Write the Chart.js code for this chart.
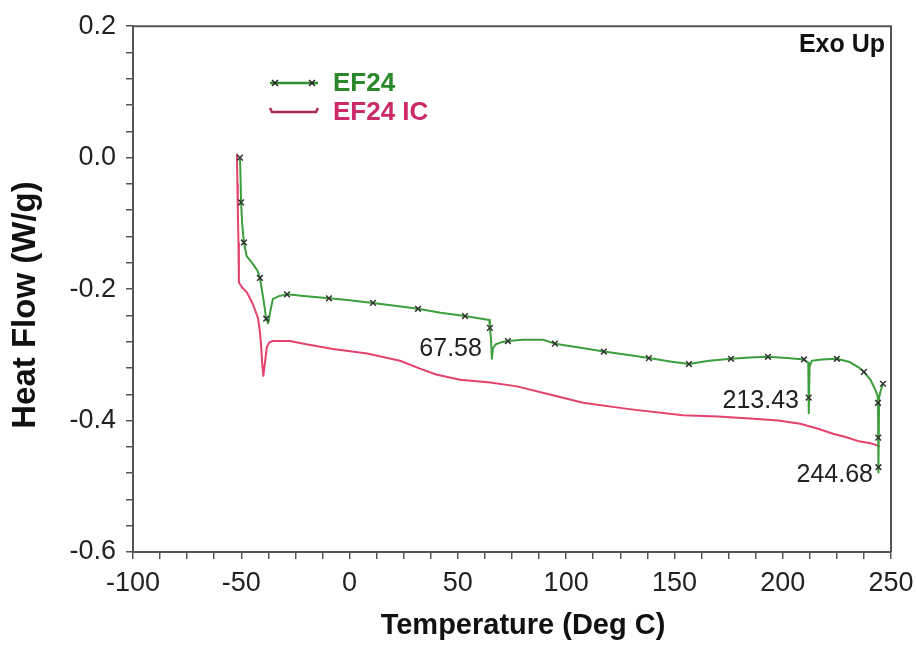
<!DOCTYPE html>
<html>
<head>
<meta charset="utf-8">
<script src="https://cdn.jsdelivr.net/npm/chart.js@4.4.1/dist/chart.umd.min.js"></script>
<style>
  body { margin: 0; background: #fff; }
  #wrap { width: 917px; height: 645px; }
</style>
</head>
<body>
<div id="wrap"><canvas id="dscChart" width="917" height="645"></canvas></div>
<script>
// EF24 trace (Deg C, W/g)
const efTemp = [-50.6, -50.3, -50.1, -49.6, -48.8, -47.5, -44.6, -42.5, -41.4, -39.8, -38.5, -37.6, -36.5, -35.4, -32,
  -28.9, -20, -9.5, 0, 10.8, 20, 31.6, 42, 53.3, 64.5, 64.8, 65.3, 65.7, 66.2, 67.5, 70, 73.1, 80, 89.3, 94.8,
  106, 117.4, 128, 138.2, 148, 156.7, 166, 176.1, 185, 193.2, 202, 209.8, 211.8, 212.0, 212.1, 212.4, 213.5,
  218, 225, 231, 235, 237.5, 240.5, 242.6, 243.8, 244.0, 244.1, 244.2, 244.3, 244.5, 245.2, 246.3];
const efFlow = [0.000, -0.035, -0.068, -0.100, -0.129, -0.150, -0.162, -0.172, -0.183, -0.215, -0.245, -0.252, -0.232, -0.215, -0.210,
  -0.208, -0.211, -0.214, -0.217, -0.221, -0.225, -0.230, -0.236, -0.241, -0.247, -0.259, -0.275, -0.306, -0.290, -0.284, -0.281, -0.279, -0.277, -0.277, -0.283,
  -0.289, -0.295, -0.300, -0.305, -0.310, -0.314, -0.309, -0.306, -0.304, -0.303, -0.305, -0.307, -0.312, -0.365, -0.389, -0.318, -0.309,
  -0.307, -0.306, -0.311, -0.319, -0.326, -0.338, -0.352, -0.362, -0.373, -0.426, -0.471, -0.479, -0.365, -0.355, -0.344];
// indices of the EF24 points that carry an "x" marker
const efMarked = [0, 2, 4, 8, 10, 15, 17, 19, 21, 23, 25, 31, 34, 36, 38, 40, 42, 44, 46, 48, 53, 56, 60, 61, 62, 66];

// EF24 IC trace
const icTemp = [-52.0, -51.8, -51.6, -51.3, -51.1, -49.5, -47.4, -44.6, -42.3, -41.5, -40.9, -40.3, -39.8, -39.0, -38.2,
  -37.0, -35.4, -27.5, -20, -7.6, 8.1, 23.3, 32.5, 40, 51, 65, 77.3, 92, 107.8, 130, 153.9, 170, 184.9, 198, 208,
  216, 223.2, 229, 235.7, 240, 244.9];
const icFlow = [0.006, -0.040, -0.080, -0.130, -0.190, -0.198, -0.205, -0.223, -0.244, -0.262, -0.283, -0.315, -0.332, -0.310, -0.288,
  -0.281, -0.279, -0.279, -0.284, -0.291, -0.298, -0.309, -0.321, -0.330, -0.338, -0.342, -0.348, -0.360, -0.373, -0.383, -0.392, -0.394, -0.397, -0.400, -0.405,
  -0.412, -0.420, -0.425, -0.432, -0.434, -0.439];

// peak labels
const peakText = ["67.58", "213.43", "244.68"];
const peakTemp = [61.1, 207.5, 241.7];
const peakFlow = [-0.291, -0.370, -0.483];

const seriesNames = ["EF24", "EF24 IC"];
const xTitle = "Temperature (Deg C)";
const yTitle = "Heat Flow (W/g)";

const green = "#3c9e3c";
const pink = "#e2426c";

function toPoints(xs, ys) {
  return xs.map((x, i) => ({ x: x, y: ys[i] }));
}

// draws frame, legend, peak labels and axis titles
const decorations = {
  id: "decorations",
  afterDraw(chart) {
    const ctx = chart.ctx;
    const a = chart.chartArea;
    const xs = chart.scales.x, ys = chart.scales.y;
    ctx.save();
    ctx.strokeStyle = "#555";
    ctx.lineWidth = 2;
    ctx.beginPath();
    ctx.moveTo(a.left, a.top);
    ctx.lineTo(a.right, a.top);
    ctx.lineTo(a.right, a.bottom);
    ctx.stroke();

    // legend
    ctx.lineWidth = 2.5;
    ctx.strokeStyle = "#2f8f2f";
    ctx.beginPath();
    ctx.moveTo(270, 83); ctx.lineTo(318, 83);
    ctx.stroke();
    ctx.strokeStyle = "#222";
    ctx.lineWidth = 1.5;
    [275, 312].forEach(px => {
      ctx.beginPath();
      ctx.moveTo(px - 3, 80); ctx.lineTo(px + 3, 86);
      ctx.moveTo(px + 3, 80); ctx.lineTo(px - 3, 86);
      ctx.stroke();
    });
    ctx.strokeStyle = "#a8285a";
    ctx.lineWidth = 2.5;
    ctx.beginPath();
    ctx.moveTo(270, 108); ctx.lineTo(272, 112); ctx.lineTo(316, 112); ctx.lineTo(318, 108);
    ctx.stroke();
    ctx.font = "bold 26px 'Liberation Sans', Arial, sans-serif";
    ctx.textBaseline = "middle";
    ctx.textAlign = "left";
    ctx.fillStyle = "#2a872a";
    ctx.fillText(seriesNames[0], 333, 84);
    ctx.fillStyle = "#cc2a68";
    ctx.fillText(seriesNames[1], 333, 113);

    ctx.fillStyle = "#111";
    ctx.font = "bold 25px 'Liberation Sans', Arial, sans-serif";
    ctx.textAlign = "right";
    ctx.fillText("Exo Up", a.right - 6, a.top + 19);

    ctx.fillStyle = "#222";
    ctx.font = "25px 'Liberation Sans', Arial, sans-serif";
    peakText.forEach((t, i) => {
      ctx.fillText(t, xs.getPixelForValue(peakTemp[i]), ys.getPixelForValue(peakFlow[i]));
    });

    // axis titles
    ctx.fillStyle = "#111";
    ctx.textAlign = "center";
    ctx.font = "bold 29px 'Liberation Sans', Arial, sans-serif";
    ctx.fillText(xTitle, 523, 626);
    ctx.translate(26, 305);
    ctx.rotate(-Math.PI / 2);
    ctx.font = "bold 33px 'Liberation Sans', Arial, sans-serif";
    ctx.fillText(yTitle, 0, 0);
    ctx.restore();
  }
};

const tickFont = { family: "'Liberation Sans', Arial, sans-serif", size: 27 };

new Chart(document.getElementById("dscChart"), {
  type: "line",
  data: {
    datasets: [
      {
        label: seriesNames[0],
        data: toPoints(efTemp, efFlow),
        borderColor: green,
        borderWidth: 2,
        borderJoinStyle: "round",
        tension: 0,
        pointStyle: "crossRot",
        pointRadius: ctx => efMarked.includes(ctx.dataIndex) ? 4 : 0,
        pointBorderColor: "#333",
        pointBorderWidth: 1.5
      },
      {
        label: seriesNames[1],
        data: toPoints(icTemp, icFlow),
        borderColor: pink,
        borderWidth: 2,
        borderJoinStyle: "round",
        tension: 0,
        pointRadius: 0
      }
    ]
  },
  options: {
    responsive: false,
    animation: false,
    layout: { padding: { top: 24, right: 26, left: 0, bottom: 0 } },
    plugins: { legend: { display: false }, tooltip: { enabled: false } },
    scales: {
      x: {
        type: "linear",
        min: -100,
        max: 250,
        afterFit: s => { s.height = 93; s.paddingLeft = 0; s.paddingRight = 0; },
        border: { color: "#555", width: 2 },
        grid: { drawOnChartArea: false, drawTicks: true, tickLength: 7, color: "#555", lineWidth: 1.5 },
        ticks: {
          stepSize: 12.5,
          autoSkip: false,
          maxRotation: 0,
          padding: 8,
          color: "#222",
          font: tickFont,
          callback: v => (Math.abs(v % 50) < 1e-6 ? String(v) : "")
        }
      },
      y: {
        type: "linear",
        min: -0.6,
        max: 0.2,
        afterFit: s => { s.width = 133; },
        border: { color: "#555", width: 2 },
        grid: { drawOnChartArea: false, drawTicks: true, tickLength: 7, color: "#555", lineWidth: 1.5 },
        ticks: {
          stepSize: 0.04,
          autoSkip: false,
          padding: 10,
          color: "#222",
          font: tickFont,
          callback: v => {
            const r = v / 0.2;
            return Math.abs(r - Math.round(r)) < 1e-6 ? (Math.round(r) * 0.2).toFixed(1) : "";
          }
        }
      }
    }
  },
  plugins: [decorations]
});
</script>
</body>
</html>
